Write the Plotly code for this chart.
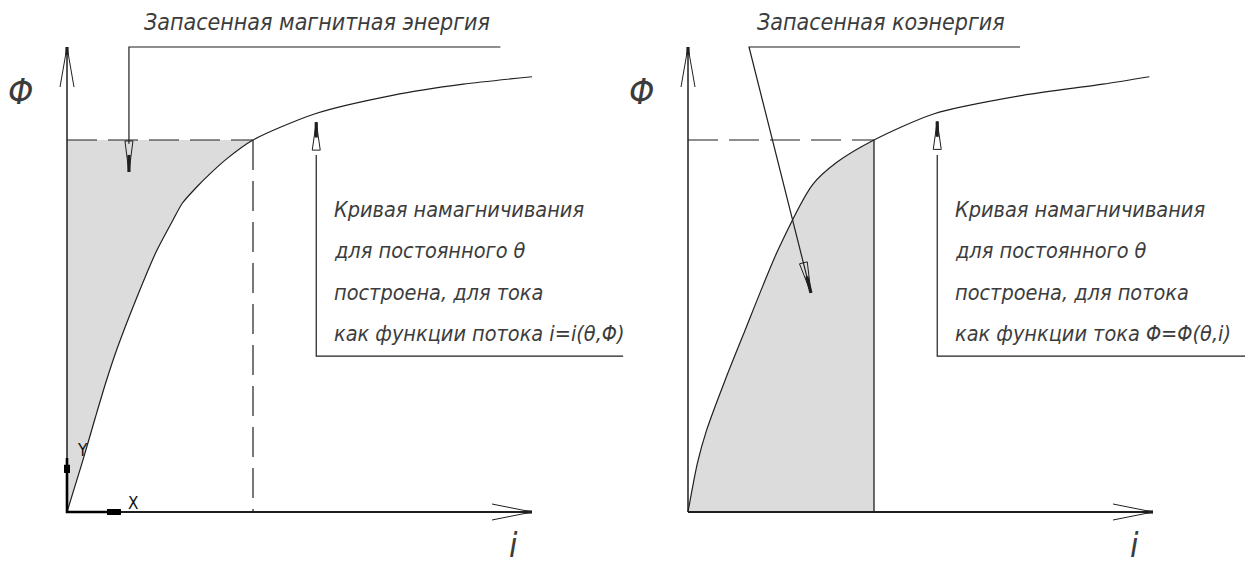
import math
import plotly.graph_objects as go

# ---- magnetization curve for the stored-energy sketch: i = i(θ, Φ)
energy_i = [0.00, 0.08, 0.15, 0.21, 0.27, 0.37, 0.48, 0.57, 0.62, 0.70, 0.76, 0.86, 1.00, 1.33, 1.75, 2.13, 2.50]
energy_phi = [0.00, 0.13, 0.25, 0.35, 0.44, 0.57, 0.70, 0.785, 0.83, 0.875, 0.905, 0.95, 1.00, 1.07, 1.12, 1.15, 1.17]

# ---- magnetization curve for the co-energy sketch: Φ = Φ(θ, i)
coenergy_i = [0.00, 0.05, 0.10, 0.20, 0.30, 0.48, 0.67, 0.80, 1.00, 1.32, 1.80, 2.23, 2.48]
coenergy_phi = [0.00, 0.13, 0.22, 0.355, 0.48, 0.70, 0.88, 0.94, 1.00, 1.07, 1.12, 1.15, 1.17]

# operating point (i, Φ) bounding the shaded areas
op_i, op_phi = 1.0, 1.0
# length of the i and Φ axes
axis_i_max, axis_phi_max = 2.5, 1.25

# ---- texts
title_energy = "Запасенная магнитная энергия"
title_coenergy = "Запасенная коэнергия"
note_energy = ["Кривая намагничивания", "для постоянного θ",
               "построена, для тока", "как функции потока i=i(θ,Φ)"]
note_coenergy = ["Кривая намагничивания", "для постоянного θ",
                 "построена, для потока", "как функции тока Φ=Φ(θ,i)"]

# ---- page geometry (pixels)
W, H = 1251, 572
PX_I, PX_PHI = 186.0, 372.0        # pixels per unit of i and Φ
ORIGIN_Y = 512
ORIGINS_X = {"left": 67, "right": 688}

INK = "#1f1f1f"
TEXT = "#3c3c3c"
FILL = "#dcdcdc"
FONT = "DejaVu Sans Condensed, Liberation Sans Narrow, DejaVu Sans, sans-serif"

fig = go.Figure()


def ax_of(panel):
    return ("x", "y") if panel == "left" else ("x2", "y2")


def line(panel, xs, ys, width=1.2, color=INK, dash=None, shape="linear"):
    xa, ya = ax_of(panel)
    ln = dict(color=color, width=width, dash=dash, shape=shape)
    if shape == "spline":
        ln["smoothing"] = 0.7
    fig.add_trace(go.Scatter(x=xs, y=ys, mode="lines", xaxis=xa, yaxis=ya,
                             line=ln, hoverinfo="skip", showlegend=False))


def to_data(dx_px, dy_px):
    # screen pixel offsets (y downwards) -> data offsets
    return dx_px / PX_I, -dy_px / PX_PHI


def arrowhead(panel, tip, direction_px, length=30, half=4, solid=0.55, open_style=False):
    """Narrow drafting arrowhead ending at `tip` (data coords)."""
    ux, uy = direction_px
    n = math.hypot(ux, uy)
    ux, uy = ux / n, uy / n
    px, py = -uy, ux
    bx, by = to_data(-ux * length, -uy * length)
    l1 = to_data(px * half, py * half)
    base = (tip[0] + bx, tip[1] + by)
    left = (base[0] + l1[0], base[1] + l1[1])
    right = (base[0] - l1[0], base[1] - l1[1])
    if open_style:
        line(panel, [left[0], tip[0], right[0]], [left[1], tip[1], right[1]], width=1.0)
    else:
        line(panel, [left[0], tip[0], right[0], left[0]], [left[1], tip[1], right[1], left[1]], width=1.0)
    sx, sy = to_data(-ux * length * solid, -uy * length * solid)
    line(panel, [tip[0] + sx, tip[0]], [tip[1] + sy, tip[1]], width=3.2)


def axes_arrows(panel):
    # Φ axis and i axis with open arrowheads
    line(panel, [0, 0], [0, axis_phi_max], width=1.5)
    line(panel, [0, axis_i_max], [0, 0], width=1.8)
    arrowhead(panel, (0, axis_phi_max), (0, -1), length=40, half=7, solid=0.2, open_style=True)
    arrowhead(panel, (axis_i_max, 0), (1, 0), length=40, half=8, solid=0.2, open_style=True)


# ================= left sketch: stored magnetic energy =================
k = energy_i.index(op_i)
xa, ya = ax_of("left")
fig.add_trace(go.Scatter(x=energy_i[:k + 1], y=energy_phi[:k + 1], mode="lines",
                         xaxis=xa, yaxis=ya, fill="tozerox", fillcolor=FILL,
                         line=dict(width=0, shape="spline", smoothing=0.7),
                         hoverinfo="skip", showlegend=False))
line("left", energy_i, energy_phi, width=1.2, shape="spline")
axes_arrows("left")
line("left", [0, op_i], [op_phi, op_phi], width=1.2, dash="30px,11px")
line("left", [op_i, op_i], [op_phi, 0], width=1.2, dash="30px,11px")

# UCS icon at the origin
line("left", [0, 0, 0.29], [0.145, 0, 0], width=2.6, color="#000000")
line("left", [0, 0], [0.105, 0.127], width=6, color="#000000")
line("left", [0.215, 0.29], [0, 0], width=6, color="#000000")

# leader to the shaded area
line("left", [2.33, 0.333, 0.333], [1.25, 1.25, 0.99])
arrowhead("left", (0.333, 0.914), (0, 1), length=31, half=4)
# leader to the curve
line("left", [1.34, 1.34, 2.99], [0.96, 0.419, 0.419])
arrowhead("left", (1.34, 1.048), (0, -1), length=28, half=4)

# ================= right sketch: stored co-energy =================
k = coenergy_i.index(op_i)
xa, ya = ax_of("right")
fig.add_trace(go.Scatter(x=coenergy_i[:k + 1], y=coenergy_phi[:k + 1], mode="lines",
                         xaxis=xa, yaxis=ya, fill="tozeroy", fillcolor=FILL,
                         line=dict(width=0, shape="spline", smoothing=0.7),
                         hoverinfo="skip", showlegend=False))
line("right", coenergy_i, coenergy_phi, width=1.2, shape="spline")
axes_arrows("right")
line("right", [0, op_i], [op_phi, op_phi], width=1.2, dash="30px,11px")
line("right", [op_i, op_i], [op_phi, 0], width=1.3)

# slanted leader to the shaded area
tip = (0.661, 0.589)
line("right", [1.785, 0.328, tip[0]], [1.25, 1.25, tip[1]])
arrowhead("right", tip, (62, 246), length=31, half=4)
# leader to the curve
line("right", [1.34, 1.34, 2.995], [0.96, 0.419, 0.419])
arrowhead("right", (1.34, 1.05), (0, -1), length=28, half=4)

# ================= texts =================
annotations = []


def text(panel, x, y, s, size, anchor="left", weight=300, style="italic", color=TEXT):
    xa, ya = ax_of(panel)
    annotations.append(dict(x=x, y=y, xref=xa, yref=ya, text=s, showarrow=False,
                            xanchor=anchor, yanchor="middle",
                            font=dict(family=FONT, size=size, color=color,
                                      style=style, weight=weight)))


text("left", 1.344, 1.317, title_energy, 23, anchor="center")
text("right", 1.04, 1.317, title_coenergy, 23, anchor="center")
rows_phi = [0.812, 0.702, 0.591, 0.481]
for s, y in zip(note_energy, rows_phi):
    text("left", 1.425, y, s, 21.5)
for s, y in zip(note_coenergy, rows_phi):
    text("right", 1.425, y, s, 21.5)
for p in ("left", "right"):
    text(p, -0.25, 1.13, "Φ", 36, anchor="center", weight=200)
    text(p, 2.4, -0.09, "i", 34, anchor="center", weight=200)
text("left", 0.045, 0.168, "Y", 17, weight=400, style="normal", color="#111111")
text("left", 0.315, 0.024, "X", 17, weight=400, style="normal", color="#111111")

# ================= layout =================
def xrange_for(panel):
    ox = ORIGINS_X[panel]
    return [-ox / PX_I, (W - ox) / PX_I]


yr = [(ORIGIN_Y - H) / PX_PHI, ORIGIN_Y / PX_PHI]
hidden = dict(visible=False, fixedrange=True)
fig.update_layout(
    width=W, height=H,
    margin=dict(l=0, r=0, t=0, b=0),
    paper_bgcolor="white", plot_bgcolor="rgba(0,0,0,0)",
    showlegend=False,
    annotations=annotations,
    xaxis=dict(domain=[0, 1], range=xrange_for("left"), **hidden),
    yaxis=dict(domain=[0, 1], range=yr, **hidden),
    xaxis2=dict(domain=[0, 1], range=xrange_for("right"), anchor="y2", **hidden),
    yaxis2=dict(domain=[0, 1], range=yr, anchor="x2", overlaying="y", **hidden),
)

fig.write_html("out.html", config=dict(displayModeBar=False))
